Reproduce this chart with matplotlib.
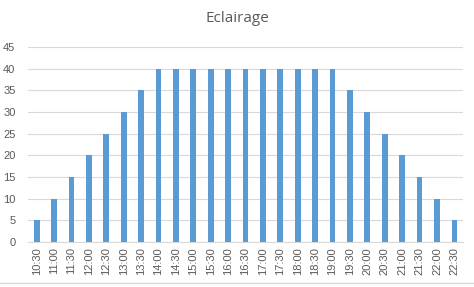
import matplotlib
matplotlib.use("Agg")
import matplotlib.pyplot as plt
import numpy as np

# half-hour slots from 10:30 to 22:30
hours = ["10:30", "11:00", "11:30", "12:00", "12:30", "13:00", "13:30",
         "14:00", "14:30", "15:00", "15:30", "16:00", "16:30", "17:00",
         "17:30", "18:00", "18:30", "19:00", "19:30", "20:00", "20:30",
         "21:00", "21:30", "22:00", "22:30"]
values = [5, 10, 15, 20, 25, 30, 35,
          40, 40, 40, 40, 40, 40, 40,
          40, 40, 40, 40, 35, 30, 25,
          20, 15, 10, 5]

plt.rcParams['font.family'] = ['Liberation Sans', 'DejaVu Sans']
txt = "#595959"

fig = plt.figure(figsize=(4.74, 2.87), dpi=100)
ax = fig.add_axes([0.059, 0.157, 0.918, 0.679])

x = np.arange(len(hours))
ax.bar(x, values, width=0.33, color="#5B9BD5", zorder=3)

ax.set_xlim(-0.5, len(hours) - 0.5)
ax.set_ylim(0, 45)
ax.set_yticks(range(0, 46, 5))
ax.set_xticks(x)
ax.set_xticklabels(hours, rotation=90)
ax.tick_params(axis="both", length=0, labelsize=8, colors=txt)
ax.tick_params(axis="x", pad=4)
ax.tick_params(axis="y", pad=9)
ax.grid(axis="y", color="#D9D9D9", linewidth=0.8, zorder=0)

for s in ["top", "right", "left"]:
    ax.spines[s].set_visible(False)
ax.spines["bottom"].set_color("#D9D9D9")

fig.text(0.5, 0.935, "Eclairage", ha="center", va="center", fontsize=11,
         color=txt, family=["Open Sans", "DejaVu Sans"])

# thin grey line along the bottom of the picture
fig.add_artist(plt.Line2D([0, 1], [0.014, 0.014], transform=fig.transFigure,
                          color="#D9D9D9", linewidth=1))

fig.savefig("out.png", dpi=100)
